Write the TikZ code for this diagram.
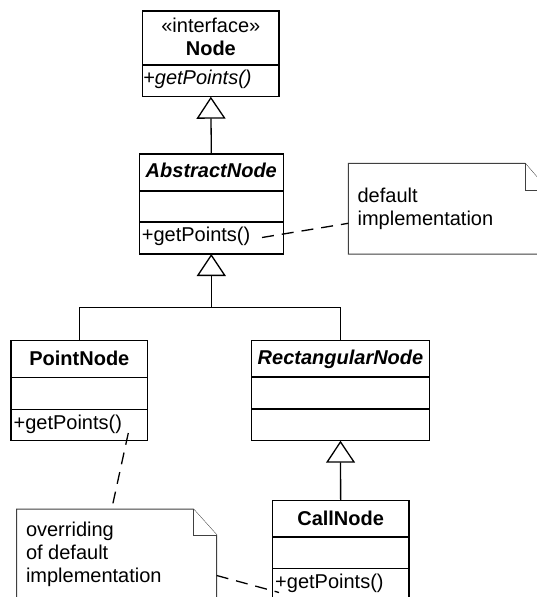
\documentclass[tikz,border=0pt]{standalone}
\usepackage{fontspec}
\setmainfont{Liberation Sans}
\usetikzlibrary{arrows.meta}
\begin{document}
\begin{tikzpicture}[x=1pt,y=-1pt,
  every node/.style={font=\fontsize{20}{23}\selectfont, inner sep=0pt, outer sep=0pt},
  classbox/.style={draw, line width=1.3pt, minimum height=100pt},
  divider/.style={line width=1.3pt},
  inh/.style={line width=1.3pt, -{Triangle[open, length=22pt, width=29pt]}},
  assoc/.style={line width=1.3pt},
  notebox/.style={draw=black!75, line width=1pt, fill=white},
  dep/.style={line width=1.3pt, dash pattern=on 12pt off 8pt},
  cname/.style={anchor=base, font=\fontsize{20}{23}\selectfont\bfseries},
  aname/.style={anchor=base, font=\fontsize{20}{23}\selectfont\bfseries\itshape},
  meth/.style={anchor=base west},
  notetext/.style={anchor=north west, align=left}
]
\useasboundingbox (0,0) rectangle (537,597);

% ---------- interface Node
\node[classbox, minimum width=136.3pt, minimum height=85.7pt] (iface) at (210.85,53.85) {};
\draw[divider] (142.7,65) -- (279,65);
\node[anchor=base] (ifst) at (210.85,32) {«interface»};
\node[cname] (ifname) at (210.85,55) {Node};
\node[meth, font=\fontsize{20}{23}\selectfont\itshape] (ifm) at (143.2,84) {+getPoints()};

% ---------- AbstractNode
\node[classbox, minimum width=144pt] (abs) at (211.3,204) {};
\draw[divider] (139.3,191) -- (283.3,191);
\draw[divider] (139.3,222) -- (283.3,222);
\node[aname] (absname) at (211.3,177.5) {AbstractNode};
\node[meth] (absm) at (141.9,241.5) {+getPoints()};

% ---------- PointNode
\node[classbox, minimum width=136.7pt] (pt) at (79.35,390.7) {};
\draw[divider] (11,377.3) -- (147.7,377.3);
\draw[divider] (11,409.3) -- (147.7,409.3);
\node[cname] (ptname) at (79.35,365) {PointNode};
\node[meth] (ptm) at (13.6,429) {+getPoints()};

% ---------- RectangularNode
\node[classbox, minimum width=177.6pt] (rect) at (340.5,390.7) {};
\draw[divider] (251.7,377) -- (429.3,377);
\draw[divider] (251.7,409) -- (429.3,409);
\node[aname] (rectname) at (340.5,364.5) {RectangularNode};

% ---------- CallNode
\node[classbox, minimum width=136.7pt] (call) at (340.65,550.7) {};
\draw[divider] (272.3,537) -- (409,537);
\draw[divider] (272.3,568.7) -- (409,568.7);
\node[cname] (callname) at (340.65,525) {CallNode};
\node[meth] (callm) at (275.2,588) {+getPoints()};

% ---------- generalizations
\draw[inh] (abs.north) -- (iface.south);
\coordinate (join) at (211.3,307.3);
\draw[inh] (pt.north) |- (join) -- (abs.south);
\draw[assoc] (rect.north) |- (join);
\draw[inh] (call.north) -- (rect.south);

% ---------- note: default implementation
\node[minimum width=199.7pt, minimum height=90.7pt] (dnote) at (448.15,208.65) {};
\draw[notebox] (348.3,163.3) -- (525,163.3) -- (548,190) -- (548,254) -- (348.3,254) -- cycle;
\draw[notebox] (525,163.3) -- (525,190) -- (548,190);
\node[notetext] (dnotetext) at (357.6,188) {default\\implementation};

% ---------- note: overriding of default implementation
\node[minimum width=200pt, minimum height=100pt] (onote) at (116.7,559) {};
\draw[notebox] (16.7,509) -- (193.3,509) -- (216.7,535) -- (216.7,612) -- (16.7,612) -- cycle;
\draw[notebox] (193.3,509) -- (193.3,535) -- (216.7,535);
\node[notetext] (onotetext) at (26,522.4) {overriding\\of default\\implementation};

% ---------- dashed note connectors
\coordinate (absmEnd) at (262,237.5);
\coordinate (dnIn) at (348.3,223.3);
\draw[dep] (absmEnd) -- (dnIn);

\coordinate (ptmEnd) at (128.3,433);
\coordinate (onTop) at (111.7,509);
\draw[dep] (ptmEnd) -- (onTop);

\coordinate (onRight) at (216.7,575.5);
\coordinate (callmStart) at (279,592.5);
\draw[dep] (onRight) -- (callmStart);
\end{tikzpicture}
\end{document}
